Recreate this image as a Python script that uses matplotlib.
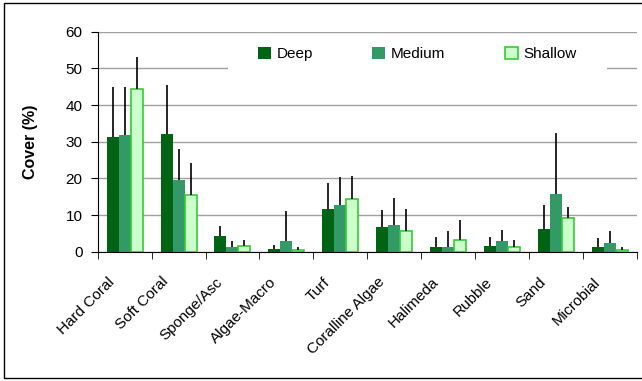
import numpy as np
import matplotlib.pyplot as plt
from matplotlib.patches import Rectangle
from matplotlib.transforms import ScaledTranslation

categories = ['Hard Coral', 'Soft Coral', 'Sponge/Asc', 'Algae-Macro', 'Turf',
              'Coralline Algae', 'Halimeda', 'Rubble', 'Sand', 'Microbial']
deep = [31.4, 32.2, 4.4, 0.8, 11.7, 6.8, 1.4, 1.6, 6.3, 1.4]
deep_err = [13.6, 13.3, 2.7, 1.1, 6.9, 4.6, 2.5, 2.4, 6.5, 2.3]
medium = [31.9, 19.6, 1.4, 3.0, 12.8, 7.4, 1.4, 3.0, 15.8, 2.5]
medium_err = [13.1, 8.4, 1.5, 8.2, 7.7, 7.2, 4.2, 2.9, 16.7, 3.1]
shallow = [44.4, 15.4, 1.6, 0.5, 14.3, 5.7, 3.3, 1.4, 9.1, 0.5]
shallow_err = [8.8, 8.8, 1.7, 0.9, 6.4, 6.0, 5.3, 1.9, 3.2, 0.8]

plt.rcParams['font.family'] = ['Liberation Sans', 'DejaVu Sans']

fig = plt.figure(figsize=(6.42, 3.81), dpi=100)
ax = fig.add_axes([0.1522, 0.3394, 0.8396, 0.5774])

x = np.arange(len(categories))
w = 0.223
zeros = np.zeros(len(x))
err_kw = dict(ecolor='black', elinewidth=1.2, capsize=0)
ax.bar(x - w, deep, w, color='#006414', label='Deep', zorder=2,
       yerr=[zeros, deep_err], error_kw=err_kw)
ax.bar(x, medium, w, color='#339966', label='Medium', zorder=2,
       yerr=[zeros, medium_err], error_kw=err_kw)
ax.bar(x + w, shallow, w, color='#CCFFCC', edgecolor='#33CC33', linewidth=1.2,
       label='Shallow', zorder=2,
       yerr=[zeros, shallow_err], error_kw=err_kw)

ax.set_xlim(-0.5, len(categories) - 0.5)
ax.set_ylim(0, 60)
ax.set_yticks(range(0, 61, 10))
ax.yaxis.grid(True, color='#a0a0a0', linewidth=1)
ax.set_axisbelow(True)
ax.spines['top'].set_visible(False)
ax.spines['right'].set_visible(False)
ax.tick_params(axis='y', labelsize=11, length=5, direction='out', pad=6)

ax.set_xticks(x)
ax.set_xticklabels(categories, rotation=45, ha='right', va='center',
                   rotation_mode='anchor', fontsize=11)
ax.tick_params(axis='x', length=0, pad=0)
shift = ScaledTranslation(-12 / 100, -28 / 100, fig.dpi_scale_trans)
for lab in ax.get_xticklabels():
    lab.set_transform(lab.get_transform() + shift)
ax.set_xticks(np.arange(-0.5, len(categories)), minor=True)
ax.tick_params(axis='x', which='minor', length=5, direction='out')

ax.set_ylabel('Cover (%)', fontsize=11.5, fontweight='bold', labelpad=20)

# white legend area hiding part of the gridline
ax.add_patch(Rectangle((0.241, 0.80), 0.704, 0.16, transform=ax.transAxes,
                       facecolor='white', edgecolor='none', zorder=1))
ax.legend(ncol=3, loc='center', bbox_to_anchor=(0.593, 0.899), fontsize=11,
          frameon=False, handlelength=0.85, handleheight=0.85,
          columnspacing=3.9, handletextpad=0.37)

fig.patches.append(Rectangle((0.0062, 0.0079), 1.05, 0.984, transform=fig.transFigure,
                             fill=False, edgecolor='black', linewidth=1))

fig.savefig('out.png', dpi=100)
